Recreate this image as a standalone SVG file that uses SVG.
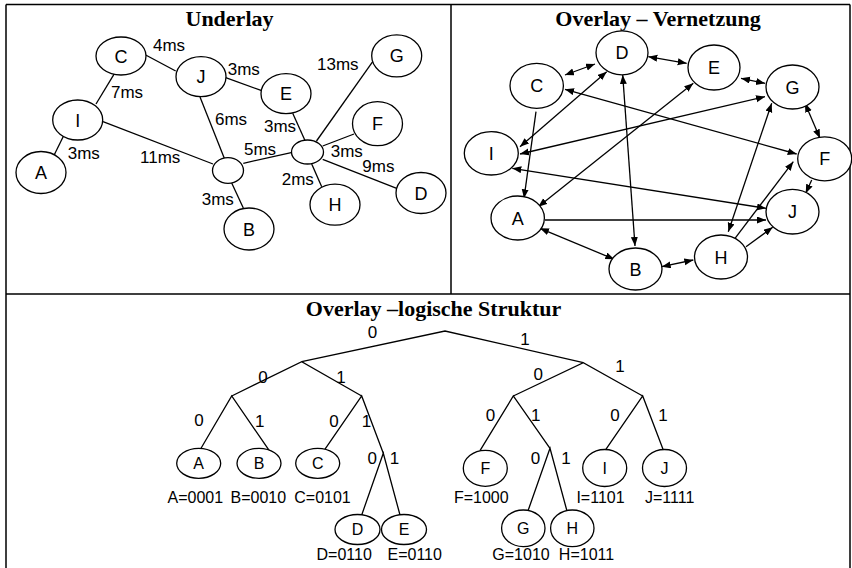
<svg xmlns="http://www.w3.org/2000/svg" width="852" height="568" viewBox="0 0 852 568">
<style>
.frame{stroke:#000;stroke-width:1.5;fill:none}
.title{font-family:"Liberation Serif",serif;font-weight:bold;font-size:22px;text-anchor:middle}
.n{fill:#fff;stroke:#000;stroke-width:1.3}
.nl{font-family:"Liberation Sans",Arial,sans-serif;font-size:18px;text-anchor:middle}
.bl{font-family:"Liberation Sans",Arial,sans-serif;font-size:16px;text-anchor:middle}
.ms{font-family:"Liberation Sans",Arial,sans-serif;font-size:17px}
.d{font-family:"Liberation Sans",Arial,sans-serif;font-size:17px;text-anchor:middle}
.e{stroke:#000;stroke-width:1.3;fill:none}
.a{stroke:#000;stroke-width:1.3;fill:none;marker-end:url(#ah)}
.aa{stroke:#000;stroke-width:1.3;fill:none;marker-end:url(#ah);marker-start:url(#ah)}
</style>
<defs>
<marker id="ah" markerUnits="userSpaceOnUse" markerWidth="10" markerHeight="8" refX="9" refY="3.5" orient="auto-start-reverse">
<path d="M0,0 L9,3.5 L0,7 z" fill="#000"/>
</marker>
</defs>
<rect width="852" height="568" fill="#fff"/>
<g id="frame">
<path class="frame" d="M6,4.5 H850 M6,4.5 V568 M850,4.5 V568 M451,4.5 V294 M6,294 H850"/>
</g>
<g id="titles">
<text class="title" x="229.5" y="26">Underlay</text>
<text class="title" x="658" y="26">Overlay – Vernetzung</text>
<text class="title" x="433.5" y="316">Overlay –logische Struktur</text>
</g>

<g id="underlay-connectors">
<line class="e" x1="145.7" y1="55" x2="175.7" y2="71"/>
<line class="e" x1="115" y1="72.7" x2="96" y2="104"/>
<line class="e" x1="65" y1="133" x2="53.3" y2="156.7"/>
<line class="e" x1="103" y1="121.7" x2="213" y2="164"/>
<line class="e" x1="200" y1="97" x2="224.3" y2="158.3"/>
<line class="e" x1="231.7" y1="183" x2="243.3" y2="208"/>
<line class="e" x1="243.3" y1="163.3" x2="292.3" y2="152.3"/>
<line class="e" x1="225" y1="77.3" x2="261.7" y2="90.7"/>
<line class="e" x1="292.7" y1="113.3" x2="305" y2="140.5"/>
<line class="e" x1="372.7" y1="61.7" x2="316.5" y2="141"/>
<line class="e" x1="354" y1="134" x2="322.7" y2="146"/>
<line class="e" x1="322.7" y1="159.3" x2="396.7" y2="188.3"/>
<line class="e" x1="311.7" y1="164" x2="321.7" y2="186.7"/>
</g>
<g id="underlay-labels">
<text class="ms" x="153" y="51">4ms</text>
<text class="ms" x="111" y="98">7ms</text>
<text class="ms" x="227.7" y="75">3ms</text>
<text class="ms" x="317" y="70">13ms</text>
<text class="ms" x="215" y="125">6ms</text>
<text class="ms" x="264" y="132">3ms</text>
<text class="ms" x="67.7" y="159">3ms</text>
<text class="ms" x="140" y="163.3">11ms</text>
<text class="ms" x="244" y="155">5ms</text>
<text class="ms" x="330.7" y="156.7">3ms</text>
<text class="ms" x="362.3" y="172.3">9ms</text>
<text class="ms" x="281.7" y="185">2ms</text>
<text class="ms" x="201.7" y="205">3ms</text>
</g>
<g id="u-C"><ellipse class="n" cx="121" cy="56" rx="25" ry="19"/><text class="nl" x="121" y="62.5">C</text></g>
<g id="u-J"><ellipse class="n" cx="201" cy="76.7" rx="25" ry="20"/><text class="nl" x="201" y="83.2">J</text></g>
<g id="u-I"><ellipse class="n" cx="77.7" cy="120" rx="25" ry="20"/><text class="nl" x="77.7" y="126.5">I</text></g>
<g id="u-A"><ellipse class="n" cx="41" cy="172.5" rx="25" ry="21"/><text class="nl" x="41" y="179">A</text></g>
<g id="u-E"><ellipse class="n" cx="286" cy="93.7" rx="25" ry="20"/><text class="nl" x="286" y="100.2">E</text></g>
<g id="u-G"><ellipse class="n" cx="396.7" cy="55.8" rx="25" ry="21"/><text class="nl" x="396.7" y="62.3">G</text></g>
<g id="u-F"><ellipse class="n" cx="377.5" cy="123.7" rx="25" ry="22"/><text class="nl" x="377.5" y="130.2">F</text></g>
<g id="u-D"><ellipse class="n" cx="421" cy="193" rx="25" ry="20.5"/><text class="nl" x="421" y="199.5">D</text></g>
<g id="u-H"><ellipse class="n" cx="335" cy="204.7" rx="25" ry="20.5"/><text class="nl" x="335" y="211.2">H</text></g>
<g id="u-B"><ellipse class="n" cx="249" cy="229" rx="25" ry="21"/><text class="nl" x="249" y="235.5">B</text></g>
<g id="u-R1"><ellipse class="n" cx="228" cy="170.5" rx="15.5" ry="12.8"/></g>
<g id="u-R2"><ellipse class="n" cx="307.5" cy="152" rx="16" ry="12"/></g>

<g id="overlay-connectors">
<line class="aa" x1="565" y1="75" x2="595" y2="64"/>
<line class="aa" x1="648.3" y1="56.7" x2="686.7" y2="63.3"/>
<line class="aa" x1="741" y1="78.3" x2="765" y2="83.3"/>
<line class="aa" x1="805" y1="103.3" x2="820" y2="138.3"/>
<line class="a" x1="811.7" y1="180" x2="805.7" y2="193.3"/>
<line class="a" x1="746" y1="246.7" x2="772.7" y2="227.3"/>
<line class="a" x1="735" y1="238.3" x2="793.3" y2="161.7"/>
<line class="aa" x1="771.7" y1="103.3" x2="728.3" y2="231.7"/>
<line class="aa" x1="661.7" y1="266.7" x2="693.3" y2="260"/>
<line class="aa" x1="540" y1="228.3" x2="614.3" y2="259.3"/>
<line class="a" x1="545" y1="220" x2="766" y2="220"/>
<line class="aa" x1="512.3" y1="168.3" x2="766" y2="208.3"/>
<line class="aa" x1="565" y1="89.3" x2="796.7" y2="154"/>
<line class="aa" x1="606.7" y1="71.7" x2="520" y2="146.7"/>
<line class="aa" x1="520" y1="154" x2="765" y2="96.7"/>
<line class="a" x1="536" y1="111.7" x2="524" y2="198.3"/>
<line class="aa" x1="622.7" y1="75" x2="635" y2="246"/>
<line class="aa" x1="693.3" y1="83.3" x2="538.3" y2="206.7"/>
</g>
<g id="o-D"><ellipse class="n" cx="622" cy="52.8" rx="26" ry="22"/><text class="nl" x="622" y="59.3">D</text></g>
<g id="o-C"><ellipse class="n" cx="536.7" cy="85.8" rx="26.7" ry="22.5"/><text class="nl" x="536.7" y="92.3">C</text></g>
<g id="o-E"><ellipse class="n" cx="714" cy="67.5" rx="26" ry="22.5"/><text class="nl" x="714" y="74">E</text></g>
<g id="o-G"><ellipse class="n" cx="792.5" cy="87" rx="26.5" ry="22"/><text class="nl" x="792.5" y="93.5">G</text></g>
<g id="o-I"><ellipse class="n" cx="491.3" cy="153.3" rx="27" ry="21.7"/><text class="nl" x="491.3" y="159.8">I</text></g>
<g id="o-A"><ellipse class="n" cx="517.7" cy="218" rx="26.7" ry="22"/><text class="nl" x="517.7" y="224.5">A</text></g>
<g id="o-B"><ellipse class="n" cx="635.5" cy="269" rx="26.5" ry="21"/><text class="nl" x="635.5" y="275.5">B</text></g>
<g id="o-H"><ellipse class="n" cx="721" cy="257" rx="26.5" ry="22"/><text class="nl" x="721" y="263.5">H</text></g>
<g id="o-J"><ellipse class="n" cx="792.5" cy="211.7" rx="26.5" ry="22.3"/><text class="nl" x="792.5" y="218.2">J</text></g>
<g id="o-F"><ellipse class="n" cx="824.7" cy="158.8" rx="27" ry="22"/><text class="nl" x="824.7" y="165.3">F</text></g>

<g id="tree-connectors">
<polyline class="e" points="301.7,361.7 445,331 583.3,362.7"/>
<polyline class="e" points="231.7,396 301.7,361.7 361.7,396"/>
<polyline class="e" points="513.3,396 583.3,362.7 642.7,396"/>
<polyline class="e" points="200,450 231.7,396 270,451.7"/>
<polyline class="e" points="323.3,451.7 361.7,396 383.3,453.3"/>
<polyline class="e" points="361.7,515 383.3,453.3 400,515"/>
<polyline class="e" points="480,450.7 513.3,396 550,448.3"/>
<polyline class="e" points="528.3,510 550,448.3 566.7,510"/>
<polyline class="e" points="605,450.7 642.7,396 663.3,450"/>
</g>
<g id="tree-edge-labels">
<text class="d" x="372.5" y="338">0</text>
<text class="d" x="525" y="345">1</text>
<text class="d" x="263" y="383">0</text>
<text class="d" x="341" y="383">1</text>
<text class="d" x="538.3" y="379.5">0</text>
<text class="d" x="620" y="372">1</text>
<text class="d" x="199" y="426">0</text>
<text class="d" x="259.7" y="426.5">1</text>
<text class="d" x="334" y="426.5">0</text>
<text class="d" x="366.5" y="426.5">1</text>
<text class="d" x="372.3" y="464.3">0</text>
<text class="d" x="394.5" y="464.3">1</text>
<text class="d" x="490.5" y="420.7">0</text>
<text class="d" x="535.8" y="420.7">1</text>
<text class="d" x="615" y="420.7">0</text>
<text class="d" x="663" y="420.7">1</text>
<text class="d" x="535.5" y="464.3">0</text>
<text class="d" x="566" y="464.3">1</text>
</g>
<g id="t-A"><ellipse class="n" cx="198.7" cy="463.3" rx="22" ry="15"/><text class="bl" x="198.7" y="469">A</text><text class="bl" x="195.3" y="503.3">A=0001</text></g>
<g id="t-B"><ellipse class="n" cx="259" cy="463.3" rx="22" ry="15"/><text class="bl" x="259" y="469">B</text><text class="bl" x="258.3" y="503.3">B=0010</text></g>
<g id="t-C"><ellipse class="n" cx="317.7" cy="463.3" rx="22" ry="15"/><text class="bl" x="317.7" y="469">C</text><text class="bl" x="322.5" y="503.3">C=0101</text></g>
<g id="t-D"><ellipse class="n" cx="357.5" cy="529.5" rx="22.5" ry="15"/><text class="bl" x="357.5" y="535.2">D</text><text class="bl" x="344.2" y="560">D=0110</text></g>
<g id="t-E"><ellipse class="n" cx="404" cy="529.5" rx="22.5" ry="15"/><text class="bl" x="404" y="535.2">E</text><text class="bl" x="414.7" y="560">E=0110</text></g>
<g id="t-F"><ellipse class="n" cx="485.3" cy="468.3" rx="22" ry="18"/><text class="bl" x="485.3" y="474">F</text><text class="bl" x="481.3" y="502.7">F=1000</text></g>
<g id="t-I"><ellipse class="n" cx="604.7" cy="468" rx="22" ry="18.5"/><text class="bl" x="604.7" y="473.7">I</text><text class="bl" x="600.5" y="502.7">I=1101</text></g>
<g id="t-J"><ellipse class="n" cx="664.5" cy="468" rx="22" ry="18.5"/><text class="bl" x="664.5" y="473.7">J</text><text class="bl" x="669.7" y="502.7">J=1111</text></g>
<g id="t-G"><ellipse class="n" cx="523.3" cy="528.3" rx="21.7" ry="18.3"/><text class="bl" x="523.3" y="534">G</text><text class="bl" x="521" y="560">G=1010</text></g>
<g id="t-H"><ellipse class="n" cx="572.3" cy="528.3" rx="21.7" ry="18.3"/><text class="bl" x="572.3" y="534">H</text><text class="bl" x="586.5" y="560">H=1011</text></g>
</svg>
